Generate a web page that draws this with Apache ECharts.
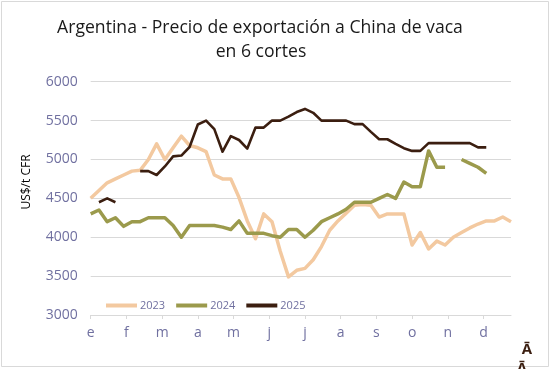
<!DOCTYPE html>
<html>
<head>
<meta charset="utf-8">
<script src="https://cdn.jsdelivr.net/npm/echarts@6/dist/echarts.min.js"></script>
<style>
html,body{margin:0;padding:0;background:#fff;}
#c{width:550px;height:369px;}
</style>
</head>
<body>
<div id="c"></div>
<script>
const months = ['e','f','m','a','m','j','j','a','s','o','n','d'];
const yTicks = [3000, 3500, 4000, 4500, 5000, 5500, 6000];
const seriesNames = ['2023', '2024', '2025'];
const s2023 = [4500,4600,4700,4750,4800,4850,4860,5000,5200,5000,5150,5300,
  5180,5150,5100,4800,4750,4750,4510,4210,3980,4300,4200,3820,3490,3575,
  3600,3710,3880,4090,4210,4310,4410,4420,4410,4260,4300,4300,4300,3900,
  4060,3850,3950,3900,4000,4060,4120,4170,4210,4210,4260,4200];
const s2024 = [4300,4350,4200,4250,4140,4200,4200,4250,4250,4250,4150,4000,
  4150,4150,4150,4150,4130,4100,4210,4050,4050,4050,4020,4000,4100,4100,
  4000,4090,4200,4250,4300,4360,4450,4450,4450,4500,4550,4500,4710,4650,
  4650,5110,4900,4900,null,5000,4950,4900,4820,null,null,null];
const s2025 = [null,4450,4500,4450,null,null,4850,4850,4800,4910,5040,5050,
  5160,5450,5500,5390,5100,5300,5250,5140,5410,5410,5500,5500,5550,5610,
  5650,5600,5500,5500,5500,5500,5455,5455,5355,5260,5260,5200,5145,5110,
  5110,5210,5210,5210,5210,5210,5210,5155,5155,null,null,null];

const weeksPerYear = 52;
const toPairs = arr => arr.map((v, i) => [i, v]);
const monthPos = months.map((m, k) => k * weeksPerYear / 12);

const colors = ['#F3C9A0', '#9B9A4C', '#3B1E10'];
const widths = [3.5, 3.5, 2.6];
const allSeries = [s2023, s2024, s2025];

const chart = echarts.init(document.getElementById('c'), null, {renderer: 'canvas'});
const font = '"Open Sans", "Liberation Sans", sans-serif';
const labelColor = '#7070A0';

chart.setOption({
  animation: false,
  backgroundColor: '#ffffff',
  grid: {left: 90.7, right: 39, top: 81.7, bottom: 54, containLabel: false},
  xAxis: {
    type: 'value',
    min: 0,
    max: s2023.length - 1,
    splitLine: {show: false},
    axisLine: {show: true, lineStyle: {color: '#D9D9D9', width: 1}},
    axisTick: {show: true, length: 4, lineStyle: {color: '#D9D9D9'}, customValues: monthPos},
    axisLabel: {
      customValues: monthPos,
      color: labelColor, fontFamily: font, fontSize: 14, margin: 11,
      formatter: v => months[Math.round(v * 12 / weeksPerYear)] || ''
    }
  },
  yAxis: {
    type: 'value',
    min: yTicks[0],
    max: yTicks[yTicks.length - 1],
    interval: 500,
    axisLine: {show: false},
    axisTick: {show: false},
    splitLine: {show: true, lineStyle: {color: '#D9D9D9', width: 1}},
    axisLabel: {color: labelColor, fontFamily: font, fontSize: 14, margin: 13, formatter: v => String(v)}
  },
  legend: {
    show: true,
    left: 101, top: 295,
    icon: 'rect',
    itemWidth: 31, itemHeight: 4, itemGap: 11,
    textStyle: {color: labelColor, fontFamily: font, fontSize: 11, padding: [0, 0, 0, -2]},
    data: seriesNames
  },
  series: seriesNames.map((n, k) => ({
    name: n,
    type: 'line',
    data: toPairs(allSeries[k]),
    showSymbol: false,
    symbol: 'none',
    connectNulls: false,
    color: colors[k],
    lineStyle: {color: colors[k], width: widths[k], join: 'round', cap: 'butt'},
    z: 2 + k
  })),
  graphic: [
    {type: 'rect', shape: {x: 1.5, y: 1.5, width: 547, height: 365}, style: {fill: 'none', stroke: '#D9D9D9', lineWidth: 1}, silent: true},
    {type: 'text', x: 260, y: 28, style: {text: 'Argentina - Precio de exportación a China de vaca', fill: '#1a1a1a', font: '17.6px ' + font, textAlign: 'center', textVerticalAlign: 'middle'}},
    {type: 'text', x: 261, y: 52, style: {text: 'en 6 cortes', fill: '#1a1a1a', font: '17.6px ' + font, textAlign: 'center', textVerticalAlign: 'middle'}},
    {type: 'text', x: 27, y: 182, rotation: Math.PI / 2, style: {text: 'US$/t CFR', fill: '#000', font: '12px ' + font, textAlign: 'center', textVerticalAlign: 'middle'}},
    {type: 'text', x: 527, y: 350, style: {text: 'Ā', fill: '#3B1E10', font: 'bold 15px ' + font, textAlign: 'center', textVerticalAlign: 'middle'}},
    {type: 'text', x: 522, y: 369, style: {text: 'Ā', fill: '#3B1E10', font: 'bold 15px ' + font, textAlign: 'center', textVerticalAlign: 'middle'}}
  ]
});
</script>
</body>
</html>
